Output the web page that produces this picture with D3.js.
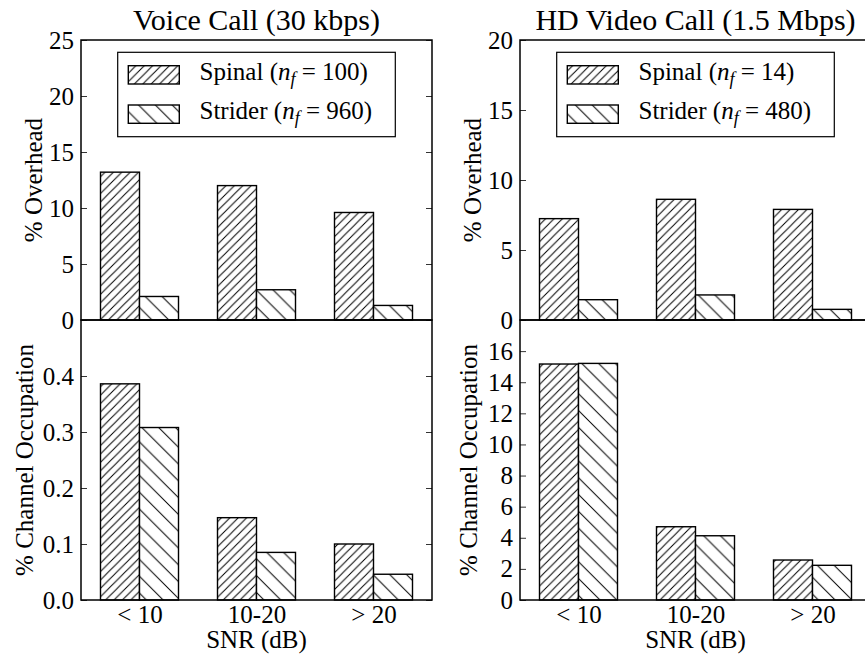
<!DOCTYPE html>
<html>
<head>
<meta charset="utf-8">
<script src="https://cdn.jsdelivr.net/npm/d3@7"></script>
<style>
  html, body { margin: 0; padding: 0; background: #fff; }
  svg { display: block; }
</style>
</head>
<body>
<svg id="chart" width="865" height="656"></svg>
<script>
// SNR bins shared by every panel
const snrBins = ["< 10", "10-20", "> 20"];

// Voice call (30 kbps)
const voiceOverheadSpinal = [13.2, 12.0, 9.6];
const voiceOverheadStrider = [2.1, 2.7, 1.3];
const voiceOccupationSpinal = [0.386, 0.147, 0.100];
const voiceOccupationStrider = [0.308, 0.085, 0.046];
const voiceNf = [100, 960];

// HD video call (1.5 Mbps)
const videoOverheadSpinal = [7.24, 8.62, 7.90];
const videoOverheadStrider = [1.45, 1.79, 0.76];
const videoOccupationSpinal = [15.17, 4.71, 2.57];
const videoOccupationStrider = [15.21, 4.13, 2.23];
const videoNf = [14, 480];

// Axis ranges and tick values
const voiceOverheadTicks = [0, 5, 10, 15, 20, 25];
const voiceOccupationTicks = [0, 0.1, 0.2, 0.3, 0.4];
const videoOverheadTicks = [0, 5, 10, 15, 20];
const videoOccupationTicks = [0, 2, 4, 6, 8, 10, 12, 14, 16];
const voiceOverheadMax = 25, voiceOccupationMax = 0.5;
const videoOverheadMax = 20, videoOccupationMax = 18;

const schemes = ["Spinal", "Strider"];

// Pick the first installed Times-like serif face
function pickSerif() {
  const candidates = ["Liberation Serif", "Times New Roman", "Tinos", "Nimbus Roman", "Nimbus Roman No9 L",
    "DejaVu Serif", "Noto Serif", "FreeSerif"];
  const ctx = document.createElement("canvas").getContext("2d");
  const probe = "Voice Call (30 kbps) Wmgil 1.5";
  const widthWith = f => { ctx.font = `40px ${f}`; return ctx.measureText(probe).width; };
  const mono = widthWith("monospace"), sans = widthWith("sans-serif");
  for (const c of candidates) {
    const a = widthWith(`"${c}", monospace`), b = widthWith(`"${c}", sans-serif`);
    if (a !== mono && b !== sans && Math.abs(a - b) < 0.01) return `"${c}", serif`;
  }
  return "serif";
}
const serifFont = pickSerif();

const svg = d3.select("#chart").style("font-family", serifFont);
const defs = svg.append("defs");

// Hatch fills: dense "//" for Spinal, sparse "\" for Strider
function hatch(id, period, forward) {
  const p = defs.append("pattern")
    .attr("id", id)
    .attr("patternUnits", "userSpaceOnUse")
    .attr("width", period).attr("height", period);
  p.append("rect").attr("width", period).attr("height", period).attr("fill", "#fff");
  const h = period / 2;
  const d = forward
    ? `M0,${period} L${period},0 M${-h},${h} L${h},${-h} M${h},${period + h} L${period + h},${h}`
    : `M0,0 L${period},${period} M${-h},${h} L${h},${period + h} M${h},${-h} L${period + h},${h}`;
  p.append("path").attr("d", d).attr("stroke", "#000").attr("stroke-width", 1).attr("fill", "none");
}
hatch("hatch-spinal", 8.4, true);
hatch("hatch-strider", 16.8, false);
const fills = ["url(#hatch-spinal)", "url(#hatch-strider)"];

const plotW = 351;
const topY = 40, midY = 320, botY = 600;

function styleTickText(sel) {
  sel.attr("font-size", 25).attr("font-family", serifFont).attr("fill", "#000");
}

function drawPanel(x0, yTop, yBot, maxVal, ticks, fmt, spinal, strider, ylabel, labelX, showXAxis) {
  const g = svg.append("g");
  const x = d3.scaleLinear().domain([-0.5, snrBins.length - 0.5]).range([x0, x0 + plotW]);
  const y = d3.scaleLinear().domain([0, maxVal]).range([yBot, yTop]);
  const barW = x(1 / 3) - x(0);

  [spinal, strider].forEach((vals, s) => {
    g.selectAll(null)
      .data(vals)
      .enter().append("rect")
      .attr("x", (d, i) => x(i) + (s === 0 ? -barW : 0))
      .attr("y", d => y(d))
      .attr("width", barW)
      .attr("height", d => y(0) - y(d))
      .attr("fill", fills[s])
      .attr("stroke", "#000")
      .attr("stroke-width", 1.4);
  });

  // left axis with inward ticks
  const left = g.append("g")
    .attr("transform", `translate(${x0},0)`)
    .call(d3.axisLeft(y).tickValues(ticks).tickFormat(fmt).tickSizeInner(-6).tickSizeOuter(0).tickPadding(7));
  left.attr("font-family", serifFont);
  left.select(".domain").remove();
  left.selectAll(".tick line").attr("stroke", "#000").attr("stroke-width", 0.8);
  styleTickText(left.selectAll(".tick text"));

  // right axis: ticks only
  const right = g.append("g")
    .attr("transform", `translate(${x0 + plotW},0)`)
    .call(d3.axisRight(y).tickValues(ticks).tickFormat("").tickSizeInner(-6).tickSizeOuter(0));
  right.select(".domain").remove();
  right.selectAll(".tick line").attr("stroke", "#000").attr("stroke-width", 0.8);

  // frame
  g.append("rect")
    .attr("x", x0).attr("y", yTop)
    .attr("width", plotW).attr("height", yBot - yTop)
    .attr("fill", "none").attr("stroke", "#000").attr("stroke-width", 1.5);

  // y label
  g.append("text")
    .attr("transform", `translate(${labelX},${(yTop + yBot) / 2}) rotate(-90)`)
    .attr("text-anchor", "middle")
    .attr("font-size", 25)
    .text(ylabel);

  if (showXAxis) {
    const bottom = g.append("g")
      .attr("transform", `translate(0,${yBot})`)
      .call(d3.axisBottom(x).tickValues(d3.range(snrBins.length)).tickFormat(i => snrBins[i]).tickSize(0).tickPadding(6));
    bottom.attr("font-family", serifFont);
    bottom.select(".domain").remove();
    styleTickText(bottom.selectAll(".tick text"));
    bottom.selectAll(".tick text").attr("dy", null).attr("y", 23);
    g.append("text")
      .attr("x", x0 + plotW / 2).attr("y", 648)
      .attr("text-anchor", "middle")
      .attr("font-size", 25)
      .text("SNR (dB)");
  }
  return x;
}

function drawLegend(x0, nf) {
  const g = svg.append("g");
  g.append("rect")
    .attr("x", x0 + 36.7).attr("y", 52.3)
    .attr("width", 277.6).attr("height", 84.4)
    .attr("fill", "#fff").attr("stroke", "#000").attr("stroke-width", 1.2);
  const rowY = [65.7, 105];
  schemes.forEach((name, s) => {
    g.append("rect")
      .attr("x", x0 + 47.3).attr("y", rowY[s])
      .attr("width", 51).attr("height", 18.3)
      .attr("fill", fills[s]).attr("stroke", "#000").attr("stroke-width", 1.4);
    const t = g.append("text")
      .attr("x", x0 + 118.5).attr("y", rowY[s] + 14)
      .attr("font-size", 25);
    t.append("tspan").text(name + " (");
    t.append("tspan").attr("font-style", "italic").text("n");
    t.append("tspan").attr("font-style", "italic").attr("font-size", 18).attr("dy", 5).text("f");
    t.append("tspan").attr("dy", -5).text(" = " + nf[s] + ")");
  });
}

// Voice call column
drawPanel(81, topY, midY, voiceOverheadMax, voiceOverheadTicks, d3.format("d"),
  voiceOverheadSpinal, voiceOverheadStrider, "% Overhead", 42, false);
drawPanel(81, midY, botY, voiceOccupationMax, voiceOccupationTicks, d3.format(".1f"),
  voiceOccupationSpinal, voiceOccupationStrider, "% Channel Occupation", 33, true);
drawLegend(81, voiceNf);

// HD video call column
drawPanel(520, topY, midY, videoOverheadMax, videoOverheadTicks, d3.format("d"),
  videoOverheadSpinal, videoOverheadStrider, "% Overhead", 481, false);
drawPanel(520, midY, botY, videoOccupationMax, videoOccupationTicks, d3.format("d"),
  videoOccupationSpinal, videoOccupationStrider, "% Channel Occupation", 477, true);
drawLegend(520, videoNf);

// Column titles
svg.append("text").attr("x", 81 + plotW / 2).attr("y", 30).attr("text-anchor", "middle")
  .attr("font-size", 30).text("Voice Call (30 kbps)");
svg.append("text").attr("x", 520 + plotW / 2).attr("y", 30).attr("text-anchor", "middle")
  .attr("font-size", 30).text("HD Video Call (1.5 Mbps)");
</script>
</body>
</html>
